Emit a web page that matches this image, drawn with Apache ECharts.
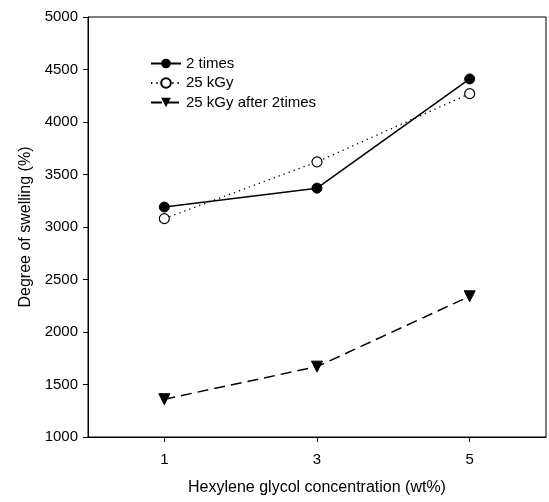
<!DOCTYPE html>
<html>
<head>
<meta charset="utf-8">
<script src="https://cdn.jsdelivr.net/npm/echarts@6/dist/echarts.min.js"></script>
<style>html,body{margin:0;padding:0;background:#fff}#c{width:549px;height:502px}</style>
</head>
<body>
<div id="c"></div>
<script>
const xValues = [1, 3, 5];
const xTicks = [1, 3, 5];
const seriesNames = ['2 times', '25 kGy', '25 kGy after 2times'];
const twoTimes = [3190, 3370, 4410];
const kGy25 = [3080, 3620, 4270];
const kGyAfter = [1360, 1670, 2340];

const font = 'Liberation Sans, Arial, sans-serif';
const chart = echarts.init(document.getElementById('c'));
const pts = arr => xValues.map((x, i) => [x, arr[i]]);
chart.setOption({
  animation: false,
  backgroundColor: '#fff',
  grid: {left: 88, right: 3, top: 17, bottom: 65, containLabel: false, outerBoundsMode: 'none',
    show: true, borderColor: '#000', borderWidth: 1, backgroundColor: 'transparent'},
  legend: {
    orient: 'vertical', left: 145, top: 51, itemWidth: 30, itemHeight: 12, itemGap: 4.5,
    textStyle: {fontFamily: font, fontSize: 15, color: '#000'},
    data: seriesNames
  },
  xAxis: {
    type: 'value', min: 0, max: 6, interval: 1,
    name: 'Hexylene glycol concentration (wt%)', nameLocation: 'middle', nameGap: 43,
    nameTextStyle: {fontFamily: font, fontSize: 16, color: '#000'},
    axisLine: {lineStyle: {color: '#000', width: 1}},
    axisTick: {length: 5, lineStyle: {color: '#000'}, customValues: xTicks},
    axisLabel: {fontFamily: font, fontSize: 15, color: '#000', margin: 15, customValues: xTicks},
    splitLine: {show: false}
  },
  yAxis: {
    type: 'value', min: 1000, max: 5000, interval: 500,
    name: 'Degree of swelling (%)', nameLocation: 'middle', nameGap: 54,
    nameTextStyle: {fontFamily: font, fontSize: 16, color: '#000'},
    axisLine: {lineStyle: {color: '#000', width: 1}},
    axisTick: {length: 5, lineStyle: {color: '#000'}},
    axisLabel: {fontFamily: font, fontSize: 15, color: '#000', margin: 10, formatter: v => String(v)},
    splitLine: {show: false}
  },
  series: [
    {name: seriesNames[0], type: 'line', data: pts(twoTimes), symbol: 'circle', symbolSize: 10,
      itemStyle: {color: '#000', borderColor: '#000'}, lineStyle: {color: '#000', width: 1.5, type: 'solid'}},
    {name: seriesNames[1], type: 'line', data: pts(kGy25), symbol: 'circle', symbolSize: 10,
      itemStyle: {color: '#fff', borderColor: '#000', borderWidth: 1.2}, lineStyle: {color: '#000', width: 1.3, type: [1.3, 4]}},
    {name: seriesNames[2], type: 'line', data: pts(kGyAfter), symbol: 'triangle', symbolRotate: 180, symbolSize: 11,
      itemStyle: {color: '#000', borderColor: '#000'}, lineStyle: {color: '#000', width: 1.5, type: [11, 6]}}
  ]
});
</script>
</body>
</html>
